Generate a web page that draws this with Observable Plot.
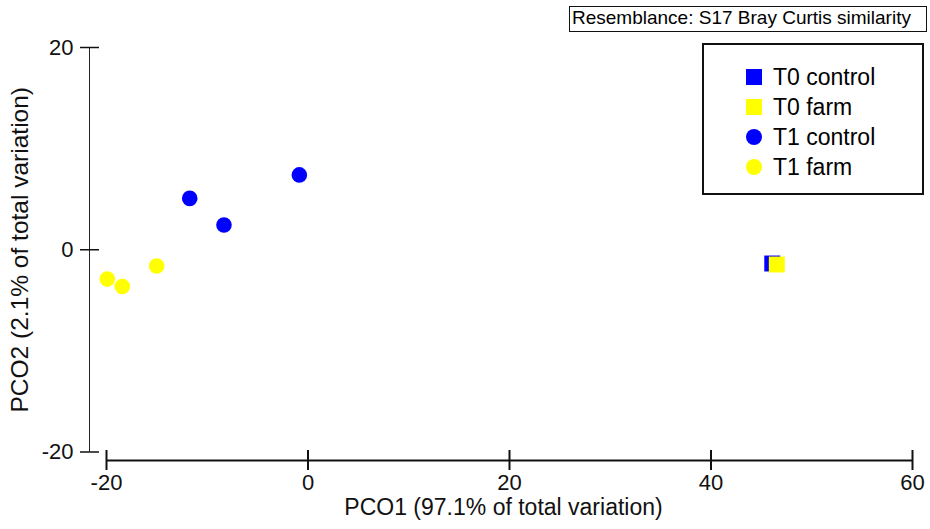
<!DOCTYPE html>
<html>
<head>
<meta charset="utf-8">
<script src="https://cdn.jsdelivr.net/npm/d3@7"></script>
<script src="https://cdn.jsdelivr.net/npm/@observablehq/plot@0.6"></script>
<style>
  html, body { margin: 0; padding: 0; background: white; }
  #wrap { position: relative; width: 930px; height: 529px; font-family: "Liberation Sans", Arial, sans-serif; }
  #wrap svg { position: absolute; left: 0; top: 0; }
  .box { position: absolute; box-sizing: border-box; background: white; color: black; }
  #res { left: 569px; top: 6px; width: 358px; height: 26px; border: 1.5px solid #111; font-size: 19px; line-height: 22px; padding-left: 2px; white-space: nowrap; overflow: hidden; }
  #leg { left: 702px; top: 43px; width: 222px; height: 152px; border: 2px solid #111; }
  .row { position: absolute; left: 42px; height: 30px; display: flex; align-items: center; font-size: 23px; white-space: nowrap; }
  .mk { display: inline-block; width: 16px; height: 16px; margin-right: 11px; }
</style>
</head>
<body>
<div id="wrap"></div>
<script>
const groups = ["T0 control", "T0 farm", "T1 control", "T1 farm"];
const groupColors = ["#0000ff", "#ffff00", "#0000ff", "#ffff00"];
const groupShapes = ["square", "square", "circle", "circle"];
const pointGroup = ["T0 control", "T0 farm", "T1 control", "T1 control", "T1 control", "T1 farm", "T1 farm", "T1 farm"];
const pco1 = [46.08, 46.53, -11.74, -8.34, -0.86, -15.02, -19.92, -18.43];
const pco2 = [-1.36, -1.46, 5.08, 2.45, 7.40, -1.61, -2.90, -3.63];
const xTicks = [-20, 0, 20, 40, 60];
const yTicks = [-20, 0, 20];
const xLabel = "PCO1 (97.1% of total variation)";
const yLabel = "PCO2 (2.1% of total variation)";
const resemblance = "Resemblance: S17 Bray Curtis similarity";

const pts = pco1.map((x, i) => ({x, y: pco2[i], g: pointGroup[i]}));
const shapeOf = g => groupShapes[groups.indexOf(g)];
const squares = pts.filter(d => shapeOf(d.g) === "square");
const circles = pts.filter(d => shapeOf(d.g) === "circle");
const fmt = d => String(d);

const plot = Plot.plot({
  width: 930,
  height: 529,
  marginLeft: 106,
  marginRight: 18,
  marginTop: 47,
  marginBottom: 77.5,
  style: {fontFamily: "'Liberation Sans', Arial, sans-serif", background: "transparent", color: "black"},
  x: {domain: [xTicks[0], xTicks[xTicks.length - 1]]},
  y: {domain: [yTicks[0], yTicks[yTicks.length - 1]]},
  color: {domain: groups, range: groupColors},
  marks: [
    Plot.ruleX([xTicks[0]], {dx: -17, stroke: "#222", strokeWidth: 1}),
    Plot.ruleY([yTicks[0]], {dy: 8.5, stroke: "#111", strokeWidth: 2}),
    Plot.axisY({ticks: yTicks, tickFormat: fmt, tickSize: 19, dx: -7, tickPadding: 7, fontSize: 22, label: null, strokeWidth: 1.5, stroke: "#111", fill: "#111"}),
    Plot.axisX({ticks: xTicks, tickFormat: fmt, tickSize: 20, dy: -1.5, tickPadding: 4, fontSize: 22, label: null, strokeWidth: 2, stroke: "#111", fill: "#111"}),
    Plot.text([xLabel], {frameAnchor: "bottom", dx: -6, dy: 56, lineAnchor: "middle", textAnchor: "middle", fontSize: 23, fill: "#111"}),
    Plot.text([yLabel], {frameAnchor: "left", dx: -86, rotate: -90, lineAnchor: "middle", textAnchor: "middle", fontSize: 24.5, fill: "#111"}),
    Plot.dot(squares, {x: "x", y: "y", fill: "g", symbol: "square", r: 9, stroke: null}),
    Plot.dot(circles, {x: "x", y: "y", fill: "g", symbol: "circle", r: 7.8, stroke: null})
  ]
});

const wrap = document.getElementById("wrap");
wrap.appendChild(plot);

const res = document.createElement("div");
res.className = "box";
res.id = "res";
res.textContent = resemblance;
wrap.appendChild(res);

const leg = document.createElement("div");
leg.className = "box";
leg.id = "leg";
groups.forEach((g, i) => {
  const row = document.createElement("div");
  row.className = "row";
  row.style.top = (17 + i * 30) + "px";
  const mk = document.createElement("span");
  mk.className = "mk";
  mk.style.background = groupColors[i];
  if (groupShapes[i] === "circle") mk.style.borderRadius = "50%";
  row.appendChild(mk);
  row.appendChild(document.createTextNode(g));
  leg.appendChild(row);
});
wrap.appendChild(leg);
</script>
</body>
</html>
